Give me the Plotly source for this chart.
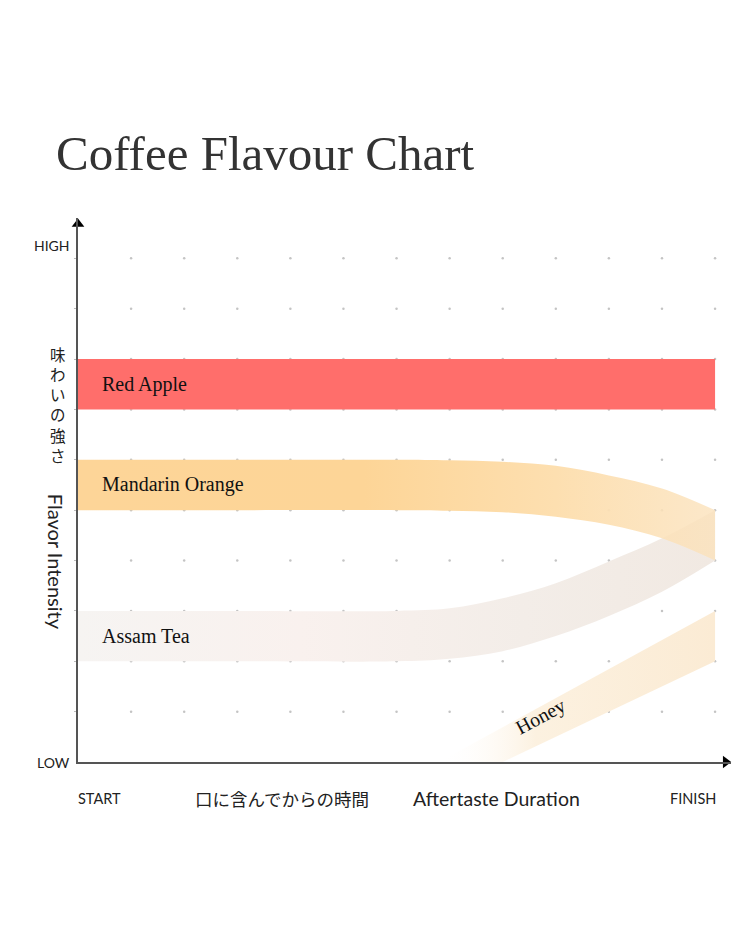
import plotly.graph_objects as go

# --- data (x: 0=START .. 12=FINISH, y: 0=LOW .. 10=HIGH) ---
grid_x = [1, 2, 3, 4, 5, 6, 7, 8, 9, 10, 11, 12]
grid_y = [1, 2, 3, 4, 5, 6, 7, 8, 9, 10]

apple_x = [0, 12]
apple_top = [8, 8]
apple_bottom = [7, 7]

mandarin_x = [0, 3, 6, 7, 8, 9, 10, 11, 12]
mandarin_top = [6, 6, 6, 5.99, 5.96, 5.88, 5.69, 5.43, 5.0]
mandarin_bottom = [5, 5, 5, 4.99, 4.96, 4.87, 4.71, 4.44, 4.0]

assam_x = [0, 3, 6, 7, 8, 9, 10, 11, 12]
assam_top = [3, 3, 3, 3.05, 3.25, 3.55, 3.98, 4.44, 5.0]
assam_bottom = [2, 2, 2, 2.05, 2.2, 2.5, 2.9, 3.38, 4.0]

honey_top_x = [6.8, 12]
honey_top = [0, 3]
honey_bottom_x = [8.0, 12]
honey_bottom = [0, 2]

bands = ["Red Apple", "Mandarin Orange", "Assam Tea", "Honey"]

X_MAX = 12.3
Y_MAX = 10.8

serif = "Liberation Serif, Times New Roman, serif"
sans = "Lato, Noto Sans, sans-serif"
jp = "Noto Sans CJK JP, sans-serif"

fig = go.Figure()

# dotted background grid
fig.add_trace(go.Scatter(
    x=[gx for gy in grid_y for gx in grid_x],
    y=[gy for gy in grid_y for gx in grid_x],
    mode="markers",
    marker=dict(size=2.5, color="#c4c4c4"),
    hoverinfo="skip",
))


def add_band(x_low, y_low, x_high, y_high, gradient, shape="linear"):
    fig.add_trace(go.Scatter(
        x=x_low, y=y_low, mode="lines", line=dict(width=0, shape=shape),
        hoverinfo="skip",
    ))
    fig.add_trace(go.Scatter(
        x=x_high, y=y_high, mode="lines", line=dict(width=0, shape=shape),
        fill="tonexty",
        fillgradient=dict(type="horizontal", colorscale=gradient),
        hoverinfo="skip",
    ))


# Red Apple
add_band(apple_x, apple_bottom, apple_x, apple_top,
         [[0, "#ff6e6b"], [1, "#ff6e6b"]])
# Assam Tea
add_band(assam_x, assam_bottom, assam_x, assam_top,
         [[0, "#f6f4f2"], [0.35, "#f9f1ee"], [0.7, "#f3ede8"], [1, "#f1e9e2"]],
         shape="spline")
# Mandarin Orange
add_band(mandarin_x, mandarin_bottom, mandarin_x, mandarin_top,
         [[0, "#fdd598"], [0.45, "#fdd597"], [0.75, "#fddfb0"],
          [1, "rgba(251,226,188,0.8)"]],
         shape="spline")
# Honey
add_band(honey_bottom_x, honey_bottom, honey_top_x, honey_top,
         [[0, "rgba(255,255,255,0)"], [0.35, "#fcf1e0"], [1, "#fbebd4"]])

# axis arrow heads
fig.add_trace(go.Scatter(
    x=[12.2], y=[0], mode="markers", cliponaxis=False,
    marker=dict(symbol="triangle-right", size=11, color="#000"),
    hoverinfo="skip",
))
fig.add_trace(go.Scatter(
    x=[0], y=[10.68], mode="markers", cliponaxis=False,
    marker=dict(symbol="triangle-up", size=11, color="#000"),
    hoverinfo="skip",
))


def px(x):
    return x / X_MAX


def py(y):
    return y / Y_MAX


ann = []
# band labels
ann.append(dict(x=0.42, y=7.5, text=bands[0], xanchor="left"))
ann.append(dict(x=0.41, y=5.5, text=bands[1], xanchor="left"))
ann.append(dict(x=0.42, y=2.5, text=bands[2], xanchor="left"))
ann.append(dict(x=8.72, y=0.9, text=bands[3], textangle=-28))
for a in ann:
    a.update(xref="x", yref="y", showarrow=False, yanchor="middle",
             font=dict(family=serif, size=20, color="#111"))

# axis texts (paper coordinates so they are not hidden outside the axes)
axis_text = [
    dict(x=px(0), y=py(10.25), text="HIGH", xanchor="right", xshift=-6,
         font=dict(family=sans, size=14, color="#222")),
    dict(x=px(0), y=py(0), text="LOW", xanchor="right", xshift=-6,
         font=dict(family=sans, size=14, color="#222")),
    dict(x=px(0), y=py(-0.72), text="START", xanchor="left", xshift=-2,
         font=dict(family=sans, size=14.5, color="#222")),
    dict(x=px(12), y=py(-0.72), text="FINISH", xanchor="right", xshift=3,
         font=dict(family=sans, size=14.5, color="#222")),
    dict(x=px(3.84), y=py(-0.72), text="口に含んでからの時間", xanchor="center",
         font=dict(family=jp, size=17.5, color="#222")),
    dict(x=px(7.89), y=py(-0.72), text="Aftertaste Duration", xanchor="center",
         font=dict(family=sans, size=19.5, color="#222")),
    dict(x=px(-0.38), y=py(7.1), text="<br>".join("味わいの強さ"),
         xanchor="center",
         font=dict(family=jp, size=15.5, color="#222")),
    dict(x=px(-0.41), y=py(3.97), text="Flavor Intensity", textangle=90,
         xanchor="center",
         font=dict(family=sans, size=20, color="#222")),
]
for a in axis_text:
    a.update(xref="paper", yref="paper", showarrow=False, yanchor="middle")
    ann.append(a)

ann.append(dict(
    xref="paper", yref="paper", x=px(-0.46), y=1.0, yshift=35,
    text="Coffee Flavour Chart", showarrow=False, xanchor="left",
    yanchor="bottom",
    font=dict(family=serif, size=49, color="#333"),
))

fig.update_layout(
    width=750, height=938,
    margin=dict(l=70, r=27, t=210, b=184),
    paper_bgcolor="white", plot_bgcolor="white",
    showlegend=False,
    hovermode=False,
    annotations=ann,
    xaxis=dict(range=[0, X_MAX], showgrid=False, zeroline=False,
               showline=True, linecolor="#555", linewidth=1.5,
               showticklabels=False, ticks=""),
    yaxis=dict(range=[0, Y_MAX], showgrid=False, zeroline=False,
               showline=True, linecolor="#555", linewidth=1.5,
               showticklabels=False, tickvals=grid_y, ticks="outside",
               ticklen=2, tickcolor="#bbb"),
)

fig.write_html("out.html")
